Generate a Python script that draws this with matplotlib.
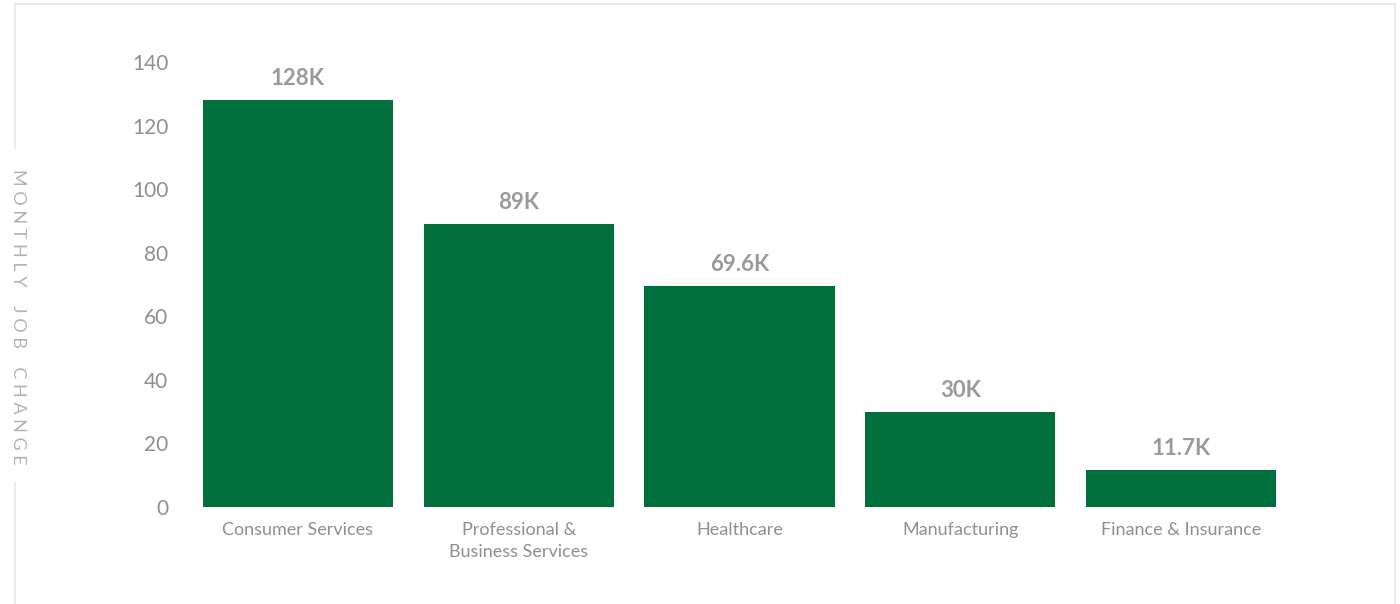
import matplotlib.pyplot as plt
from matplotlib.lines import Line2D

plt.rcParams.update({'font.family': ['Lato', 'DejaVu Sans']})

categories = ['Consumer Services', 'Professional &\nBusiness Services', 'Healthcare',
              'Manufacturing', 'Finance & Insurance']
values = [128, 89, 69.6, 30, 11.7]
value_labels = ['128K', '89K', '69.6K', '30K', '11.7K']

bar_color = '#006f3b'
text_grey = '#8f8f8f'
label_grey = '#9a9a9a'
border_grey = '#e8e8e8'

W, H = 1400, 604
fig = plt.figure(figsize=(W / 100, H / 100), dpi=100)
ax = fig.add_axes([187.6 / W, 1 - 507 / H, (1291.4 - 187.6) / W, (507 - 62) / H])

x = range(len(categories))
ax.bar(x, values, width=0.861, color=bar_color)
ax.set_xlim(-0.5, len(categories) - 0.5)
ax.set_ylim(0, 140)
ax.set_yticks(range(0, 141, 20))
ax.set_xticks(list(x))
ax.set_xticklabels(categories, fontsize=13, color=text_grey, linespacing=1.45)
ax.tick_params(axis='y', labelsize=15, colors=text_grey, length=0, pad=14)
ax.tick_params(axis='x', length=0, pad=11)
for s in ax.spines.values():
    s.set_visible(False)

for xi, v, lab in zip(x, values, value_labels):
    ax.annotate(lab, (xi, v), xytext=(0, 8), textcoords='offset points',
                ha='center', va='bottom', fontsize=16, fontweight='bold',
                color=label_grey)

# y label with letter spacing, reading top to bottom
ylab = ' '.join('MONTHLY JOB CHANGE').replace('   ', '    ')
fig.text(18 / W, 1 - 317 / H, ylab, rotation=270, ha='center', va='center',
         fontsize=13, color='#b3b3b3')

# frame around the chart, broken by the y label
def fl(x0, y0, x1, y1):
    fig.add_artist(Line2D([x0 / W, x1 / W], [1 - y0 / H, 1 - y1 / H],
                          color=border_grey, lw=1.2, transform=fig.transFigure))

fl(15, 4, 1395, 4)
fl(15, 4, 15, 148)
fl(15, 482, 15, 604)
fl(1395, 4, 1395, 604)

fig.savefig('out.png', dpi=100)
